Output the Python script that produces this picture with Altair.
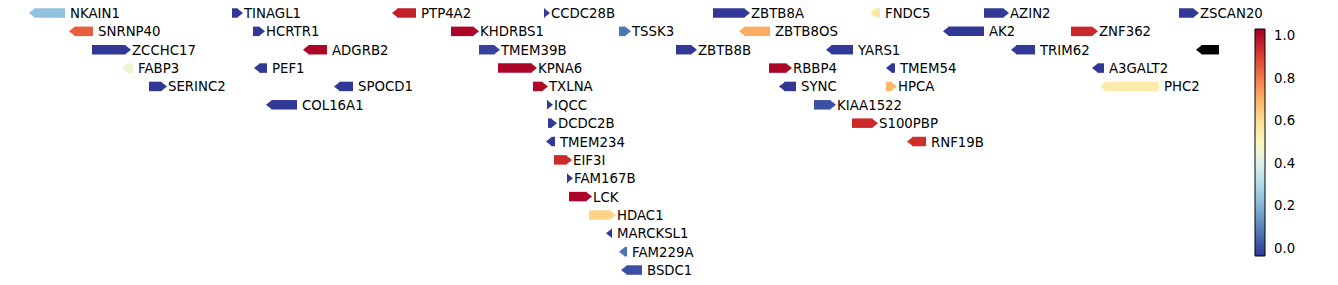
import altair as alt
import pandas as pd

genes = ["NKAIN1", "TINAGL1", "PTP4A2", "CCDC28B", "ZBTB8A", "FNDC5", "AZIN2", "ZSCAN20",
         "SNRNP40", "HCRTR1", "KHDRBS1", "TSSK3", "ZBTB8OS", "AK2", "ZNF362",
         "ZCCHC17", "ADGRB2", "TMEM39B", "ZBTB8B", "YARS1", "TRIM62", "",
         "FABP3", "PEF1", "KPNA6", "RBBP4", "TMEM54", "A3GALT2",
         "SERINC2", "SPOCD1", "TXLNA", "SYNC", "HPCA", "PHC2",
         "COL16A1", "IQCC", "KIAA1522",
         "DCDC2B", "S100PBP",
         "TMEM234", "RNF19B",
         "EIF3I", "FAM167B", "LCK", "HDAC1", "MARCKSL1", "FAM229A", "BSDC1"]
starts = [29, 232, 392, 544, 713, 870, 984, 1179,
          69, 253, 451, 619, 739, 943, 1071,
          92, 303, 479, 676, 826, 1011, 1196,
          122, 254, 498, 769, 886, 1092,
          149, 334, 533, 779, 886, 1100,
          266, 547, 814,
          548, 852,
          546, 907,
          554, 567, 569, 589, 606, 619, 621]
ends = [65, 243, 416, 550, 750, 880, 1009, 1199,
        93, 265, 479, 631, 770, 984, 1098,
        131, 327, 500, 697, 853, 1035, 1219,
        133, 267, 537, 792, 895, 1104,
        167, 353, 548, 796, 897, 1159,
        297, 553, 836,
        557, 878,
        555, 926,
        572, 573, 592, 616, 612, 627, 642]
strands = ["-", "+", "-", "+", "+", "-", "+", "+",
           "-", "+", "+", "+", "-", "-", "+",
           "+", "-", "+", "+", "-", "-", "-",
           "-", "-", "+", "+", "-", "-",
           "+", "-", "+", "-", "+", "-",
           "-", "+", "+",
           "+", "+",
           "-", "-",
           "+", "+", "+", "+", "-", "-", "-"]
rows = [0, 0, 0, 0, 0, 0, 0, 0,
        1, 1, 1, 1, 1, 1, 1,
        2, 2, 2, 2, 2, 2, 2,
        3, 3, 3, 3, 3, 3,
        4, 4, 4, 4, 4, 4,
        5, 5, 5,
        6, 6,
        7, 7,
        8, 9, 10, 11, 12, 13, 14]
values = [0.235, -0.03, 0.966, -0.03, -0.03, 0.564, -0.03, -0.03,
          0.85, -0.03, 1.02, 0.076, 0.712, -0.03, 0.945,
          -0.03, 1.02, -0.01, -0.03, -0.03, -0.03, None,
          0.458, -0.03, 1.02, 1.02, -0.03, -0.03,
          -0.03, -0.03, 1.01, -0.03, 0.69, 0.553,
          -0.03, -0.03, 0.012,
          -0.03, 0.945,
          -0.03, 0.935,
          0.945, -0.03, 1.02, 0.627, -0.03, 0.076, 0.012]
color_domain = [-0.033, 1.033]
colorbar_ticks = [0.0, 0.2, 0.4, 0.6, 0.8, 1.0]

df = pd.DataFrame({"gene": genes, "start": starts, "end": ends, "strand": strands,
                   "row": rows, "value": values})

W, H = 1338, 285
FONT = "DejaVu Sans"
BAR_H = 9.5
TIP = 6
R = BAR_H / 2
SIZE = (2 * R) ** 2
k = TIP / R

xs = alt.Scale(domain=[0, W], nice=False, zero=False, padding=0)
ys = alt.Scale(domain=[-0.708, 14.815], reverse=True, nice=False, zero=False, padding=0)
cs = alt.Scale(scheme="redyellowblue", reverse=True, domain=color_domain, nice=False)

base = alt.Chart(df)

color_legend = alt.Legend(
    type="gradient", title=None, orient="none", legendX=1255, legendY=29,
    direction="vertical", gradientLength=227, gradientThickness=10,
    values=colorbar_ticks, format=".1f",
    labelFontSize=13.3, labelFont=FONT, labelColor="black", labelOffset=9,
    gradientStrokeColor="black", gradientStrokeWidth=1, labelBaseline="middle",
    labelOverlap=False,
)

layers = []
for valid in (True, False):
    test = "isValid(datum.value)" if valid else "!isValid(datum.value)"
    for strand in ("+", "-"):
        sub = base.transform_filter(f"datum.strand == '{strand}'").transform_filter(test)
        if valid:
            c_body = alt.Color("value:Q", scale=cs,
                               legend=color_legend if strand == "+" else None)
            c_tip = alt.Color("value:Q", scale=cs, legend=None)
        else:
            c_body = c_tip = alt.value("black")
        if strand == "+":
            body = sub.mark_bar(height=BAR_H, orient="horizontal", x2Offset=-(TIP - 0.5))
            tip = sub.mark_point(shape=f"M{-k},-1L0,0L{-k},1Z", size=SIZE, filled=True,
                                 opacity=1, strokeWidth=0)
            tip_field = "end:Q"
        else:
            body = sub.mark_bar(height=BAR_H, orient="horizontal", xOffset=(TIP - 0.5))
            tip = sub.mark_point(shape=f"M{k},-1L0,0L{k},1Z", size=SIZE, filled=True,
                                 opacity=1, strokeWidth=0)
            tip_field = "start:Q"
        layers.append(body.encode(
            x=alt.X("start:Q", scale=xs, axis=None),
            x2="end:Q",
            y=alt.Y("row:Q", scale=ys, axis=None),
            color=c_body,
        ))
        layers.append(tip.encode(
            x=alt.X(tip_field, scale=xs, axis=None),
            y=alt.Y("row:Q", scale=ys, axis=None),
            color=c_tip,
        ))

for strand, dx in (("+", 1), ("-", 5)):
    layers.append(
        base.transform_filter(f"datum.strand == '{strand}'").mark_text(
            align="left", baseline="middle", dx=dx, dy=1, font=FONT,
            fontSize=13.3, color="black").encode(
            x=alt.X("end:Q", scale=xs, axis=None),
            y=alt.Y("row:Q", scale=ys, axis=None),
            text="gene:N",
        )
    )

chart = alt.layer(*layers).properties(
    width=W, height=H, autosize=alt.AutoSizeParams(type="none"), padding=0,
    background="white",
).configure_view(stroke=None)

chart.save("out.html", embed_options={"renderer": "svg", "actions": False})
